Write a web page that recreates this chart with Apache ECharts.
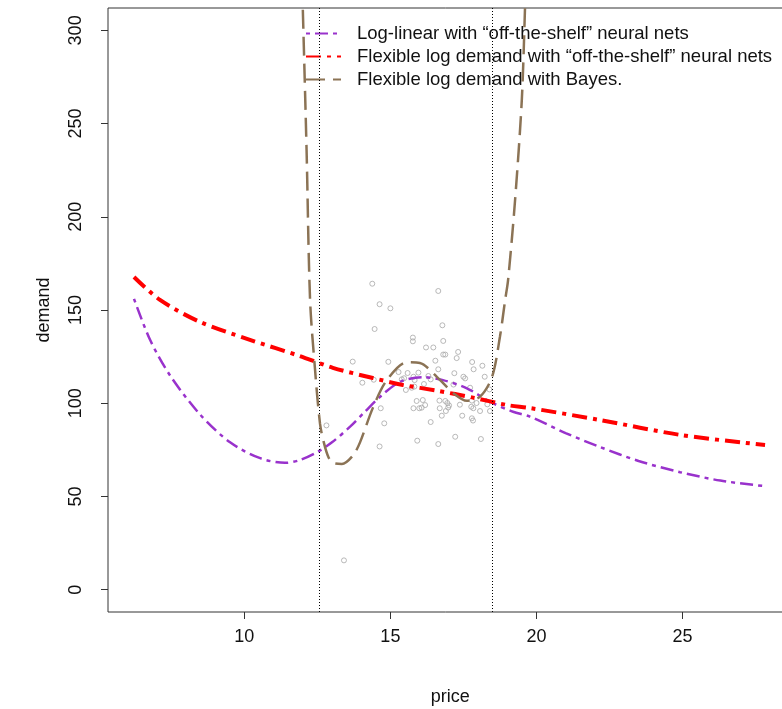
<!DOCTYPE html>
<html>
<head>
<meta charset="utf-8">
<script src="https://cdn.jsdelivr.net/npm/echarts@6/dist/echarts.min.js"></script>
<style>html,body{margin:0;padding:0;background:#fff}#c{width:782px;height:709px}</style>
</head>
<body>
<div id="c"></div>
<script>
// ---- data ----
const seriesNames = [
  'Log-linear with \u201Coff-the-shelf\u201D neural nets',
  'Flexible log demand with \u201Coff-the-shelf\u201D neural nets',
  'Flexible log demand with Bayes.'
];
const xTicks = [10, 15, 20, 25];
const yTicks = [0, 50, 100, 150, 200, 250, 300];
const cutoffs = [12.55, 18.48];

const logLinX = [6.22, 6.77, 7.45, 8.48, 9.51, 10.54, 11.39, 11.9, 12.52, 13.0, 13.62, 14.1, 14.65, 15.33, 16.12, 16.8, 17.62, 18.41, 19.2, 19.78, 21.0, 22.18, 23.5, 24.92, 26.3, 27.83];
const logLinY = [156, 134, 115, 94, 79, 70.5, 68, 69.5, 74, 79, 87.4, 95, 103.5, 111.5, 114, 112.4, 108, 100.8, 95.4, 92.8, 84, 76.5, 69, 63, 58.5, 55.5];

const flexX = [6.22, 7.11, 8.48, 10.19, 11.9, 13.03, 14.4, 15.43, 16.6, 17.83, 19.0, 19.78, 22.18, 24.92, 27.83];
const flexY = [167.7, 155.4, 143.6, 134, 125.3, 119, 113.5, 109.8, 106.7, 103, 99, 97.4, 91, 83, 77.6];

const bayesX = [11.95, 12.0, 12.13, 12.25, 12.42, 12.59, 12.72, 12.88, 13.03, 13.34, 13.72, 13.96, 14.4, 14.88, 15.57, 16.01, 16.6, 17.15, 17.62, 18.07, 18.48, 18.75, 18.93, 19.03, 19.27, 19.5, 19.61, 19.66];
const bayesY = [340, 312, 235.8, 155.4, 118, 89, 79, 71, 68, 67.4, 72, 79, 97.5, 112.4, 122, 121.6, 114, 105.5, 101.3, 103.5, 114, 135.5, 155.4, 166, 209, 262.6, 312, 340];

const obsPrice = [14.38, 16.64, 14.63, 15.00, 14.46, 16.78, 15.77, 15.77, 16.81, 16.22, 16.47, 17.32, 16.81, 16.88, 17.27, 16.54, 13.71, 14.93, 17.80, 18.15, 16.64, 17.85, 15.28, 15.59, 15.96, 17.19, 18.23, 17.50, 17.56, 16.30, 14.04, 14.43, 15.39, 15.47, 15.79, 15.83, 16.38, 15.82, 15.53, 16.15, 17.16, 17.73, 18.39, 15.73, 15.90, 16.11, 16.19, 16.07, 16.68, 16.88, 16.95, 17.01, 16.98, 17.38, 17.79, 17.95, 18.32, 15.99, 15.79, 16.69, 16.90, 17.77, 17.84, 18.07, 18.41, 14.67, 17.46, 16.76, 17.79, 17.83, 16.38, 14.79, 12.81, 17.22, 15.92, 18.10, 16.64, 14.63, 13.41];
const obsDemand = [164.1, 160.2, 153.1, 150.9, 139.8, 141.8, 135.2, 133.2, 133.4, 129.9, 129.9, 127.5, 126.1, 126.1, 124.2, 122.8, 122.3, 122.2, 122.1, 120.1, 118.2, 118.2, 116.7, 116.2, 116.4, 116.1, 114.2, 114.2, 113.3, 114.6, 111.0, 112.6, 112.8, 113.4, 114.2, 112.4, 112.8, 108.9, 107.1, 110.3, 110.0, 108.3, 107.4, 108.3, 101.2, 101.7, 99.0, 97.6, 101.4, 101.2, 100.1, 98.8, 97.7, 99.2, 101.4, 100.1, 99.4, 97.3, 97.3, 97.3, 95.8, 98.1, 97.3, 95.8, 95.8, 97.3, 93.3, 93.3, 91.9, 90.7, 89.9, 89.2, 88.1, 82.0, 79.9, 80.8, 78.1, 76.8, 15.7];

const zip = (a, b) => a.map((v, i) => [v, b[i]]);

const FONT = '"Liberation Sans", Arial, sans-serif';
const chart = echarts.init(document.getElementById('c'), null, {renderer: 'canvas'});
chart.setOption({
  animation: false,
  backgroundColor: '#ffffff',
  grid: {left: 108, top: 8, width: 684.5, height: 604, show: true, borderColor: '#333', borderWidth: 1,
         containLabel: false, outerBoundsMode: 'none'},
  legend: {
    orient: 'vertical', left: 305, top: 24, padding: 0, itemWidth: 35, itemHeight: 10, itemGap: 4,
    data: seriesNames,
    itemStyle: {opacity: 0},
    textStyle: {fontFamily: FONT, fontSize: 18.5, color: '#111', lineHeight: 19, padding: [0, 0, 0, 11]}
  },
  xAxis: {
    type: 'value', min: 5.33, max: 28.77,
    name: 'price', nameLocation: 'middle', nameGap: 76,
    nameTextStyle: {fontFamily: FONT, fontSize: 18, color: '#111'},
    axisLine: {show: false, onZero: false}, splitLine: {show: false},
    axisTick: {show: true, length: 7, inside: false, customValues: xTicks, lineStyle: {color: '#333'}},
    axisLabel: {customValues: xTicks, margin: 16, fontFamily: FONT, fontSize: 18, color: '#111'}
  },
  yAxis: {
    type: 'value', min: -12, max: 312,
    name: 'demand', nameLocation: 'middle', nameGap: 55,
    nameTextStyle: {fontFamily: FONT, fontSize: 18, color: '#111'},
    axisLine: {show: false, onZero: false}, splitLine: {show: false},
    axisTick: {show: true, length: 7, inside: false, customValues: yTicks, lineStyle: {color: '#333'}},
    axisLabel: {customValues: yTicks, rotate: 90, margin: 23, fontFamily: FONT, fontSize: 18, color: '#111'}
  },
  series: [
    {
      type: 'scatter', name: 'obs', data: zip(obsPrice, obsDemand), symbol: 'circle', symbolSize: 5,
      itemStyle: {color: 'rgba(255,255,255,0)', borderColor: '#a8a8a8', borderWidth: 1}, z: 1,
      markLine: {
        silent: true, symbol: 'none', label: {show: false},
        lineStyle: {color: '#000', width: 1, type: [1, 2]},
        data: cutoffs.map(v => ({xAxis: v}))
      }
    },
    {
      type: 'line', name: seriesNames[0], data: zip(logLinX, logLinY), symbol: 'none', smooth: 0.3,
      lineStyle: {color: '#9932CC', width: 2.5, type: [4, 5, 13, 5]}, itemStyle: {color: '#9932CC'}, z: 3
    },
    {
      type: 'line', name: seriesNames[1], data: zip(flexX, flexY), symbol: 'none', smooth: 0.3,
      lineStyle: {color: '#ff0000', width: 4, type: [15, 6, 4, 6]}, itemStyle: {color: '#ff0000'}, z: 4
    },
    {
      type: 'line', name: seriesNames[2], data: zip(bayesX, bayesY), symbol: 'none', smooth: 0.3,
      lineStyle: {color: '#8B7355', width: 2.5, type: [19, 8]}, itemStyle: {color: '#8B7355'}, z: 5
    }
  ]
});
</script>
</body>
</html>
